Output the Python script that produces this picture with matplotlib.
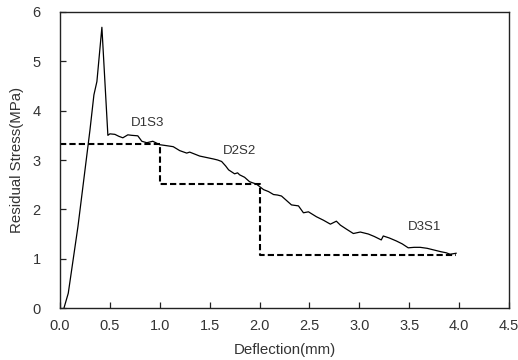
import matplotlib
matplotlib.use("Agg")
import matplotlib.pyplot as plt

# Measured residual stress curve
defl = [0.04, 0.083, 0.18, 0.30, 0.34, 0.37, 0.42, 0.48, 0.50, 0.55, 0.59, 0.63, 0.68,
        0.72, 0.78, 0.82, 0.87, 0.93, 1.00, 1.07, 1.135, 1.20, 1.27, 1.30, 1.35, 1.40,
        1.47, 1.54, 1.58, 1.62, 1.66, 1.69, 1.72, 1.75, 1.78, 1.80, 1.85, 1.90, 1.97,
        2.04, 2.09, 2.14, 2.18, 2.22, 2.27, 2.32, 2.39, 2.44, 2.49, 2.53, 2.57, 2.64,
        2.71, 2.74, 2.77, 2.81, 2.87, 2.94, 3.01, 3.09, 3.15, 3.22, 3.24, 3.30, 3.37,
        3.43, 3.49, 3.55, 3.61, 3.68, 3.74, 3.82, 3.87, 3.91, 3.97]
stress = [0.0, 0.30, 1.65, 3.60, 4.32, 4.59, 5.69, 3.50, 3.53, 3.52, 3.48, 3.45, 3.51,
          3.50, 3.49, 3.38, 3.35, 3.38, 3.31, 3.29, 3.27, 3.19, 3.14, 3.16, 3.12, 3.08,
          3.05, 3.02, 3.00, 2.97, 2.88, 2.80, 2.76, 2.72, 2.74, 2.70, 2.65, 2.56, 2.51,
          2.40, 2.36, 2.30, 2.29, 2.27, 2.18, 2.09, 2.07, 1.93, 1.95, 1.90, 1.85, 1.78,
          1.70, 1.73, 1.76, 1.68, 1.60, 1.51, 1.54, 1.50, 1.45, 1.38, 1.46, 1.42, 1.36,
          1.30, 1.22, 1.23, 1.23, 1.21, 1.18, 1.14, 1.12, 1.09, 1.11]

# Stepped (dashed) design values
step_x = [0.0, 1.0, 1.0, 2.0, 2.0, 3.97]
step_y = [3.32, 3.32, 2.52, 2.52, 1.07, 1.07]

labels = ["D1S3", "D2S2", "D3S1"]
label_x = [0.88, 1.80, 3.65]
label_y = [3.75, 3.19, 1.65]

x_ticks = [0.0, 0.5, 1.0, 1.5, 2.0, 2.5, 3.0, 3.5, 4.0, 4.5]
y_ticks = [0, 1, 2, 3, 4, 5, 6]

plt.rcParams['font.family'] = ['Liberation Sans', 'DejaVu Sans']
txt_color = '#333333'

fig = plt.figure(figsize=(5.18, 3.6), dpi=100)
ax = fig.add_axes([0.1158, 0.1444, 0.8668, 0.8223])

ax.plot(defl, stress, color='black', lw=0.9)
ax.plot(step_x, step_y, color='black', lw=1.5, ls=(0, (3, 1.5)))

for t, x, y in zip(labels, label_x, label_y):
    ax.text(x, y, t, ha='center', va='center', fontsize=9.5, color=txt_color)

ax.set_xlim(0, 4.5)
ax.set_ylim(0, 6)
ax.set_xticks(x_ticks)
ax.set_xticklabels([f"{v:.1f}" for v in x_ticks])
ax.set_yticks(y_ticks)
ax.tick_params(direction='in', length=4, width=0.9, labelsize=10.5,
               colors='#222222', labelcolor=txt_color, top=False, right=False)
ax.tick_params(axis='x', pad=8)
ax.tick_params(axis='y', pad=14)
for s in ax.spines.values():
    s.set_linewidth(1.0)
    s.set_color('#222222')

ax.set_xlabel("Deflection(mm)", fontsize=10.8, color=txt_color, labelpad=7)
ax.set_ylabel("Residual Stress(MPa)", fontsize=10.8, color=txt_color, labelpad=6)

fig.savefig("out.png", dpi=100)
